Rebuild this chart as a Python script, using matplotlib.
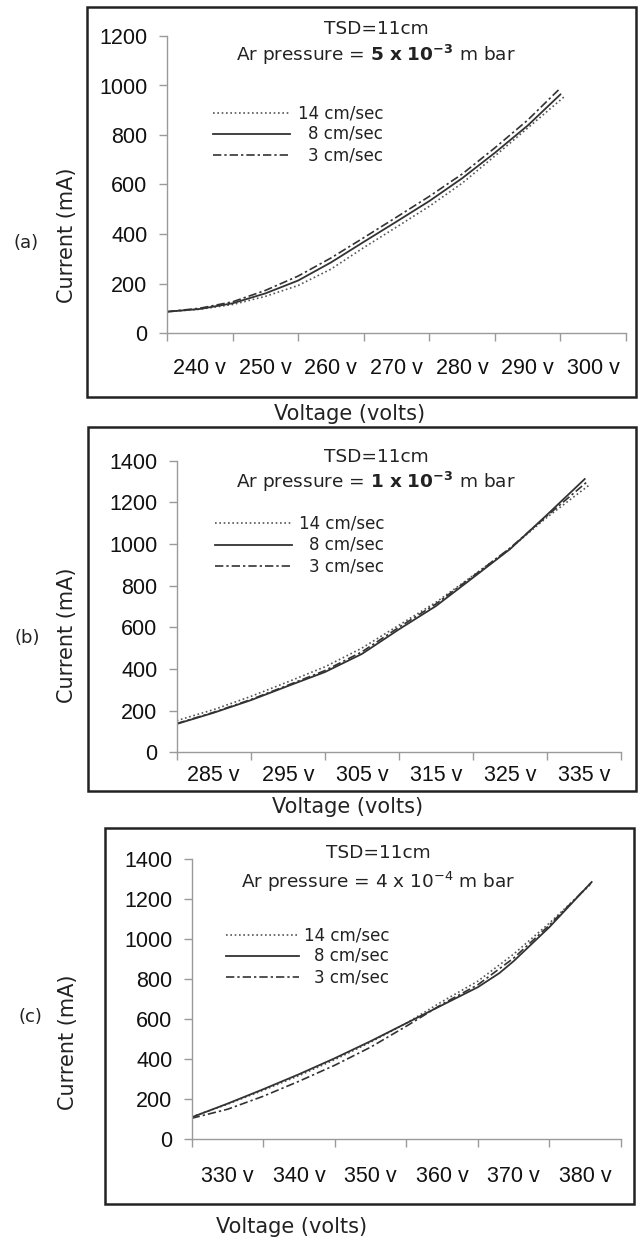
import matplotlib
matplotlib.use("Agg")
import matplotlib.pyplot as plt
from matplotlib.lines import Line2D
from matplotlib.patches import Rectangle
from matplotlib.ticker import FixedLocator, NullFormatter

plt.rcParams['mathtext.fontset'] = 'dejavusans'

# ---------------- data ----------------
series_labels = ["14 cm/sec", "8 cm/sec", "3 cm/sec"]

# Panel (a): Ar pressure 5e-3 mbar
a_v14 = [235, 240, 245, 250, 255, 260, 265, 270, 275, 280, 285, 290, 295.6]
a_i14 = [86, 96, 115, 148, 192, 258, 345, 428, 512, 605, 715, 828, 955]
a_v8 = [235, 240, 245, 250, 255, 260, 265, 270, 275, 280, 285, 290, 295]
a_i8 = [86, 97, 120, 160, 212, 285, 368, 450, 533, 625, 728, 838, 964]
a_v3 = [235, 240, 245, 250, 255, 260, 265, 270, 275, 280, 285, 290, 294.7]
a_i3 = [86, 100, 126, 172, 230, 303, 385, 468, 552, 642, 748, 860, 982]
a_xticklabels = ["240 v", "250 v", "260 v", "270 v", "280 v", "290 v", "300 v"]

# Panel (b): Ar pressure 1e-3 mbar
b_v14 = [280, 285, 290, 295, 300, 305, 310, 315, 320, 325, 330, 335.6]
b_i14 = [152, 205, 268, 338, 410, 500, 610, 720, 848, 978, 1128, 1280]
b_v8 = [280, 285, 290, 295, 300, 305, 310, 315, 320, 325, 330, 335.1]
b_i8 = [136, 190, 250, 318, 385, 472, 590, 702, 838, 975, 1140, 1312]
b_v3 = [280, 285, 290, 295, 300, 305, 310, 315, 320, 325, 330, 335.3]
b_i3 = [138, 192, 253, 322, 392, 482, 600, 712, 845, 980, 1135, 1295]
b_xticklabels = ["285 v", "295 v", "305 v", "315 v", "325 v", "335 v"]

# Panel (c): Ar pressure 4e-4 mbar
c_v14 = [325, 330, 335, 340, 345, 350, 355, 360, 365, 370, 375, 380.8]
c_i14 = [112, 175, 245, 318, 398, 485, 580, 688, 790, 925, 1080, 1275]
c_v8 = [325, 330, 335, 340, 345, 350, 355, 360, 365, 368, 370, 375, 380.9]
c_i8 = [110, 178, 250, 325, 405, 490, 580, 670, 760, 830, 890, 1060, 1285]
c_v3 = [325, 330, 335, 340, 345, 350, 355, 360, 365, 370, 375, 380.8]
c_i3 = [105, 150, 215, 290, 370, 460, 565, 675, 772, 905, 1070, 1280]
c_xticklabels = ["330 v", "340 v", "350 v", "360 v", "370 v", "380 v"]

# ---------------- figure ----------------
W, H = 643, 1240
fig = plt.figure(figsize=(W / 100, H / 100), dpi=100)

LABEL_FONT = "DejaVu Sans"
TICK_FONT = "Liberation Sans"
TXT = "#222222"
styles = [dict(ls=(0, (1, 1.6)), color="#555555", lw=1.2),
          dict(ls="-", color="#333333", lw=1.3),
          dict(ls=(0, (5, 1.8, 1.4, 1.8)), color="#333333", lw=1.2)]


def fx(x):
    return x / W


def fy(y):
    return 1 - y / H


def panel(box, axpix, xlim, ylim, ymaj, xlabels, xlabel_pad, data,
          tag, tagpos, ylabpos, titles, titlepos, legpos, xlabpos):
    bx0, by0, bx1, by1 = box
    fig.add_artist(Rectangle((fx(bx0), fy(by1)), fx(bx1 - bx0), (by1 - by0) / H,
                             transform=fig.transFigure, fill=False,
                             ec="#222222", lw=1.8))
    l, t, r, b = axpix
    ax = fig.add_axes([fx(l), fy(b), fx(r - l), (b - t) / H])
    for (v, i), st in zip(data, styles):
        ax.plot(v, i, **st)
    ax.set_xlim(*xlim)
    ax.set_ylim(*ylim)
    for s in ["top", "right"]:
        ax.spines[s].set_visible(False)
    for s in ["left", "bottom"]:
        ax.spines[s].set_color("#9a9a9a")
        ax.spines[s].set_linewidth(1.0)
    ax.set_yticks(list(range(ylim[0], ylim[1] + 1, ymaj)))
    ax.tick_params(axis="y", direction="out", length=6, width=1.0,
                   color="#9a9a9a", pad=8, labelsize=15.5)
    nb = len(xlabels) + 1
    step = (xlim[1] - xlim[0]) / len(xlabels)
    ax.xaxis.set_major_locator(FixedLocator([xlim[0] + k * step for k in range(nb)]))
    ax.xaxis.set_major_formatter(NullFormatter())
    ax.xaxis.set_minor_locator(FixedLocator([xlim[0] + (k + 0.5) * step for k in range(len(xlabels))]))
    ax.set_xticklabels(xlabels, minor=True)
    ax.tick_params(axis="x", which="major", direction="out", length=6,
                   width=1.0, color="#9a9a9a")
    ax.tick_params(axis="x", which="minor", length=0, pad=xlabel_pad, labelsize=15.5)
    for lab in ax.get_xticklabels(minor=True) + ax.get_yticklabels():
        lab.set_fontfamily(TICK_FONT)
        lab.set_color("#111111")
    ax.patch.set_alpha(0)

    fig.text(fx(tagpos[0]), fy(tagpos[1]), tag, ha="center", va="center",
             fontsize=13, family=LABEL_FONT, color=TXT)
    fig.text(fx(ylabpos[0]), fy(ylabpos[1]), "Current (mA)", rotation=90,
             ha="center", va="center", fontsize=15, family=LABEL_FONT, color=TXT)
    fig.text(fx(xlabpos[0]), fy(xlabpos[1]), "Voltage (volts)",
             ha="center", va="center", fontsize=15, family=LABEL_FONT, color=TXT)
    fig.text(fx(titlepos[0]), fy(titlepos[1]), titles[0], ha="center", va="center",
             fontsize=13.3, family=LABEL_FONT, color=TXT)
    fig.text(fx(titlepos[0]), fy(titlepos[2]), titles[1], ha="center", va="center",
             fontsize=13.3, family=LABEL_FONT, color=TXT)
    lx0, lx1, tx, rows = legpos
    for st, lab, yy in zip(styles, series_labels, rows):
        fig.add_artist(Line2D([fx(lx0), fx(lx1)], [fy(yy), fy(yy)],
                              transform=fig.transFigure, **st))
        fig.text(fx(tx), fy(yy), lab, ha="right", va="center",
                 fontsize=12, family=LABEL_FONT, color=TXT)
    return ax


panel(box=(87, 7, 636, 397), axpix=(167, 36, 626, 333), xlim=(235, 305),
      ylim=(0, 1200), ymaj=200, xlabels=a_xticklabels, xlabel_pad=18,
      data=[(a_v14, a_i14), (a_v8, a_i8), (a_v3, a_i3)],
      tag="(a)", tagpos=(26, 243), ylabpos=(67, 235),
      titles=("TSD=11cm", r"Ar pressure = $\mathbf{5\ x\ 10^{-3}}$ m bar"),
      titlepos=(376, 29, 55), legpos=(213, 290, 383, (113, 134, 155)),
      xlabpos=(350, 414))

panel(box=(88, 427, 636, 791), axpix=(176.7, 460.7, 621, 752.3), xlim=(280, 340),
      ylim=(0, 1400), ymaj=200, xlabels=b_xticklabels, xlabel_pad=9,
      data=[(b_v14, b_i14), (b_v8, b_i8), (b_v3, b_i3)],
      tag="(b)", tagpos=(27, 638), ylabpos=(67, 635),
      titles=("TSD=11cm", r"Ar pressure = $\mathbf{1\ x\ 10^{-3}}$ m bar"),
      titlepos=(376, 457, 482), legpos=(215, 292, 384, (523, 545, 566)),
      xlabpos=(348, 807))

panel(box=(105, 828, 634, 1204), axpix=(191.7, 859, 621, 1139.3), xlim=(325, 385),
      ylim=(0, 1400), ymaj=200, xlabels=c_xticklabels, xlabel_pad=19,
      data=[(c_v14, c_i14), (c_v8, c_i8), (c_v3, c_i3)],
      tag="(c)", tagpos=(30, 1017), ylabpos=(68, 1042),
      titles=("TSD=11cm", r"Ar pressure = 4 x 10$^{-4}$ m bar"),
      titlepos=(378, 853, 882), legpos=(226, 299, 389, (935, 956, 977)),
      xlabpos=(292, 1227))

fig.savefig("out.png", dpi=100)
